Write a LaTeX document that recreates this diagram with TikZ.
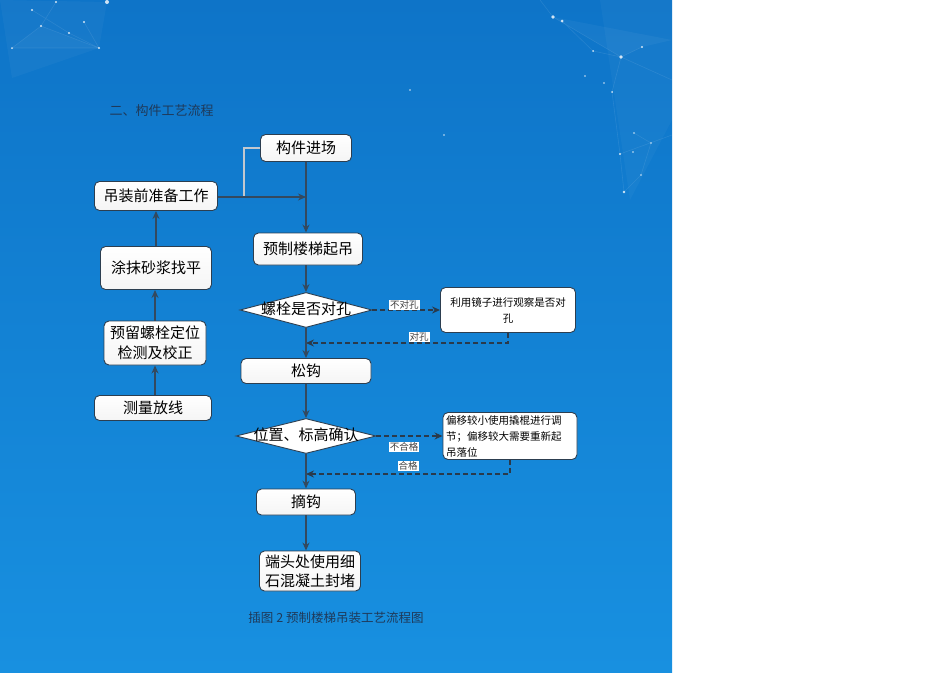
\documentclass[tikz,border=0pt]{standalone}
\usepackage{fontspec}
\setmainfont{Noto Sans CJK SC}
\usetikzlibrary{shapes.geometric,arrows.meta}
\definecolor{bgtop}{HTML}{0E74C8}
\definecolor{bgbot}{HTML}{1890E0}
\definecolor{linec}{HTML}{34495E}
\definecolor{boxedge}{HTML}{2C3E50}
\definecolor{capc}{HTML}{1F3A5A}
\begin{document}
\begin{tikzpicture}[x=1pt,y=-1pt,
  flowbox/.style={draw=boxedge,line width=0.9pt,rounded corners=5pt,top color=white,bottom color=white!92!gray,inner sep=1pt,align=center,font=\fontsize{15}{18}\selectfont},
  smallbox/.style={draw=boxedge,line width=0.9pt,rounded corners=5pt,fill=white,inner sep=2pt,font=\fontsize{10.5}{16}\selectfont},
  decision/.style={diamond,draw=boxedge,line width=0.9pt,fill=white,inner sep=0pt,minimum width=#1,minimum height=35},
  flow/.style={draw=linec,line width=1.3pt,-{Stealth[length=8pt,width=7pt]}},
  dflow/.style={draw=linec!80!black,line width=1.3pt,dash pattern=on 5pt off 3pt,-{Stealth[length=8pt,width=7pt]}},
  tag/.style={fill=white,inner sep=1pt,font=\fontsize{9.5}{11}\selectfont,text=black!75},
  net/.style={draw=white,draw opacity=0.09,line width=0.6pt},
  dot/.style={fill=white,fill opacity=0.8}]
\useasboundingbox (0,0) rectangle (950,672);
\fill[white] (0,0) rectangle (950,672);
\shade[top color=bgtop,bottom color=bgbot] (0,0) rectangle (672,672);
% background network decoration
\fill[white,opacity=0.035] (0,0) -- (107,2) -- (99,48) -- (12,78) -- cycle;
\fill[white,opacity=0.03] (41,26) -- (99,48) -- (12,48) -- cycle;
\draw[net] (12,48) -- (41,26) -- (99,48) -- (12,48);
\draw[net] (32,10) -- (69,33) -- (99,48) (56,2) -- (41,26) (84,22) -- (99,48);
\fill[white,opacity=0.04] (553,17) -- (672,40) -- (642,47) -- (621,57) -- cycle;
\fill[white,opacity=0.03] (600,0) -- (672,0) -- (672,120) -- (630,200) -- cycle;
\draw[net] (553,17) -- (621,57) -- (642,47) (562,21) -- (593,51) -- (621,57) -- (612,92) -- (620,154) -- (624,192);
\draw[net] (621,57) -- (672,80) (634,133) -- (651,143) -- (641,175) -- (624,192) (620,154) -- (672,135);
\draw[net] (540,0) -- (553,17);
\foreach \p/\r in {(32,10)/1.2,(56,2)/1.2,(107,2)/2,(41,26)/1.1,(84,22)/1.2,(69,33)/1.1,(12,48)/1,(99,48)/1.1,
  (553,17)/1.8,(562,21)/1.5,(593,51)/1,(621,57)/1.8,(642,47)/1.2,(585,76)/0.9,(604,83)/0.9,(612,92)/1,
  (634,133)/0.8,(620,154)/1.1,(633,152)/0.8,(651,143)/0.8,(624,192)/1.4,(641,175)/0.8,(410,90)/0.8,(444,135)/0.8}
  \fill[dot] \p circle (\r);
% title and caption
\node[anchor=west,font=\fontsize{13}{15}\selectfont,text=capc] (title) at (106,111) {二、构件工艺流程};
\node[font=\fontsize{12.5}{14}\selectfont,text=capc] (cap) at (336,618) {插图 2 预制楼梯吊装工艺流程图};
% main column
\node[flowbox,minimum width=91,minimum height=27] (jc) at (306,148) {构件进场};
\node[flowbox,minimum width=123,minimum height=29] (zb) at (156,196) {吊装前准备工作};
\node[flowbox,minimum width=109,minimum height=32] (qd) at (308,249) {预制楼梯起吊};
\node[decision=132] (d1) at (306,310) {};
\node[font=\fontsize{15}{18}\selectfont] (d1t) at (306,309) {螺栓是否对孔};
\node[smallbox,minimum width=135,minimum height=45,align=center] (jz) at (508,310) {利用镜子进行观察是否对\\孔};
\node[flowbox,minimum width=130,minimum height=25] (sg) at (306,371) {松钩};
\node[decision=140] (d2) at (306,436) {};
\node[font=\fontsize{15}{18}\selectfont] (d2t) at (306,435) {位置、标高确认};
\node[smallbox,minimum width=134,minimum height=47,align=left,text width=128] (py) at (510,436) {偏移较小使用撬棍进行调\\节；偏移较大需要重新起\\吊落位};
\node[flowbox,minimum width=99,minimum height=26] (zg) at (306,502) {摘钩};
\node[flowbox,minimum width=101,minimum height=40,font=\fontsize{15}{19}\selectfont] (fd) at (310,571) {端头处使用细\\石混凝土封堵};
% left column
\node[flowbox,minimum width=111,minimum height=43] (tm) at (156,268) {涂抹砂浆找平};
\node[flowbox,minimum width=102,minimum height=44,font=\fontsize{15}{20}\selectfont] (yl) at (155,343) {预留螺栓定位\\检测及校正};
\node[flowbox,minimum width=117,minimum height=25] (cl) at (153,408) {测量放线};
% connectors
\coordinate (m1) at (306,197);
\coordinate (r1) at (306,343);
\coordinate (r2) at (306,474);
\draw[white!70!linec,line width=1.2pt] (jc.west) -| (244,197) -- (zb.east |- m1);
\draw[flow] (zb.east |- m1) -- (m1);
\draw[flow] (jc.south) -- (jc.south |- qd.north);
\draw[flow] (qd.south -| d1.north) -- (d1.north);
\draw[dflow] (d1.east) -- node[tag,above=-1pt,xshift=-2pt] (t1) {不对孔} (jz.west);
\draw[dflow] (jz.south) |- node[tag,pos=0.72,above=0pt] (t2) {对孔} (r1);
\draw[flow] (d1.south) -- (sg.north);
\draw[flow] (sg.south) -- (d2.north);
\draw[dflow] (d2.east) -- (py.west);
\node[tag] (t3) at (404,447) {不合格};
\node[tag] (t4) at (408,466) {合格};
\draw[dflow] (py.south) |- (r2);
\draw[flow] (d2.south) -- (zg.north);
\draw[flow] (zg.south) -- (zg.south |- fd.north);
\draw[flow] (cl.north -| yl.south) -- (yl.south);
\draw[flow] (yl.north) -- (yl.north |- tm.south);
\draw[flow] (tm.north) -- (tm.north |- zb.south);
\end{tikzpicture}
\end{document}
